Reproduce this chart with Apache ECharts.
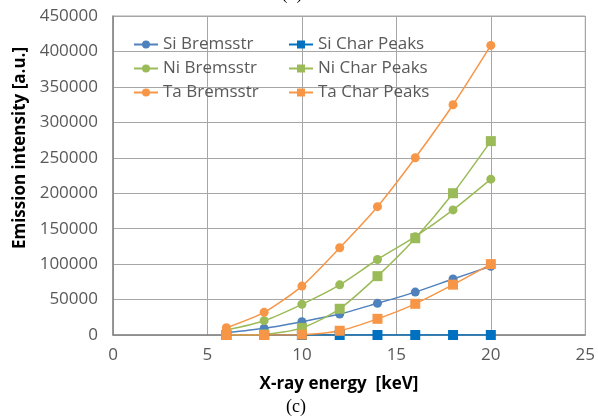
<!DOCTYPE html>
<html>
<head>
<meta charset="utf-8">
<script src="https://cdn.jsdelivr.net/npm/echarts@6/dist/echarts.min.js"></script>
<style>
  html, body { margin: 0; padding: 0; background: #fff; }
  #chart { width: 598px; height: 420px; }
</style>
</head>
<body>
<div id="chart"></div>
<script>
// X-ray energies (keV) at which the emission was evaluated
const energies = [6, 8, 10, 12, 14, 16, 18, 20];

// Emission intensity [a.u.] per target / component
const siBrems = [3000, 9400, 18800, 29500, 44700, 60500, 79000, 97000];
const siChar  = [0, 0, 0, 0, 0, 0, 0, 0];
const niBrems = [7000, 20200, 43300, 70800, 106500, 138700, 176500, 219800];
const niChar  = [0, 800, 10000, 37000, 83000, 136500, 200000, 273500];
const taBrems = [10300, 32000, 69000, 123000, 181000, 250000, 324800, 408500];
const taChar  = [0, 0, 500, 6000, 22800, 44000, 71000, 100000];

const xTicks = [0, 5, 10, 15, 20, 25];
const yTicks = [0, 50000, 100000, 150000, 200000, 250000, 300000, 350000, 400000, 450000];

const BLUE = '#4F81BD', DARKBLUE = '#0070C0', GREEN = '#9BBB59', ORANGE = '#F79646';
const FONT = 'Open Sans';

function pairs(vals) { return energies.map((e, i) => [e, vals[i]]); }

function line(name, vals, color, symbol) {
  return {
    name: name,
    type: 'line',
    data: pairs(vals),
    smooth: 0.25,
    symbol: symbol,
    symbolSize: symbol === 'rect' ? 10 : 9,
    showSymbol: true,
    lineStyle: { color: color, width: 1.5 },
    itemStyle: { color: color },
    emphasis: { disabled: true },
    animation: false
  };
}

const chart = echarts.init(document.getElementById('chart'), null, { renderer: 'canvas' });

const legendText = { color: '#595959', fontSize: 17, fontFamily: FONT };

chart.setOption({
  backgroundColor: '#fff',
  animation: false,
  grid: {
    left: 113, right: 12, top: 16, bottom: 85,
    show: true, borderColor: '#a6a6a6', borderWidth: 1
  },
  legend: [
    {
      data: ['Si Bremsstr', 'Ni Bremsstr', 'Ta Bremsstr'],
      orient: 'vertical', left: 128, top: 31,
      itemWidth: 24, itemHeight: 10, itemGap: 7,
      textStyle: legendText
    },
    {
      data: ['Si Char Peaks', 'Ni Char Peaks', 'Ta Char Peaks'],
      orient: 'vertical', left: 283, top: 31,
      itemWidth: 24, itemHeight: 10, itemGap: 7,
      textStyle: legendText
    }
  ],
  xAxis: {
    type: 'value', min: xTicks[0], max: xTicks[xTicks.length - 1], interval: 5,
    axisLine: { show: true, onZero: false, lineStyle: { color: '#868686', width: 1.5 } },
    axisTick: { show: false },
    axisLabel: { color: '#595959', fontSize: 17, fontFamily: FONT, margin: 12,
                 formatter: v => String(v) },
    splitLine: { show: true, lineStyle: { color: '#a6a6a6', width: 1 } }
  },
  yAxis: {
    type: 'value', min: yTicks[0], max: yTicks[yTicks.length - 1], interval: 50000,
    axisLine: { show: true, lineStyle: { color: '#868686', width: 1.5 } },
    axisTick: { show: false },
    axisLabel: { color: '#595959', fontSize: 17, fontFamily: FONT, margin: 15,
                 formatter: v => String(v) },
    splitLine: { show: true, lineStyle: { color: '#a6a6a6', width: 1 } }
  },
  series: [
    line('Si Bremsstr', siBrems, BLUE, 'circle'),
    line('Si Char Peaks', siChar, DARKBLUE, 'rect'),
    line('Ni Bremsstr', niBrems, GREEN, 'circle'),
    line('Ni Char Peaks', niChar, GREEN, 'rect'),
    line('Ta Bremsstr', taBrems, ORANGE, 'circle'),
    line('Ta Char Peaks', taChar, ORANGE, 'rect')
  ],
  graphic: [
    {
      type: 'text', x: 20, y: 148, rotation: Math.PI / 2,
      style: {
        text: 'Emission intensity [a.u.]', fill: '#000',
        font: 'bold 17px "' + FONT + '"', align: 'center', verticalAlign: 'middle'
      }
    },
    {
      type: 'text', x: 339, y: 384,
      style: {
        text: 'X-ray energy  [keV]', fill: '#000',
        font: 'bold 17px "' + FONT + '"', align: 'center', verticalAlign: 'middle'
      }
    },
    {
      type: 'text', x: 296, y: 407,
      style: {
        text: '(c)', fill: '#000',
        font: '18px "Liberation Serif"', align: 'center', verticalAlign: 'middle'
      }
    },
    {
      type: 'text', x: 292, y: -6,
      style: {
        text: '(b)', fill: '#000',
        font: '18px "Liberation Serif"', align: 'center', verticalAlign: 'middle'
      }
    }
  ]
});
</script>
</body>
</html>
